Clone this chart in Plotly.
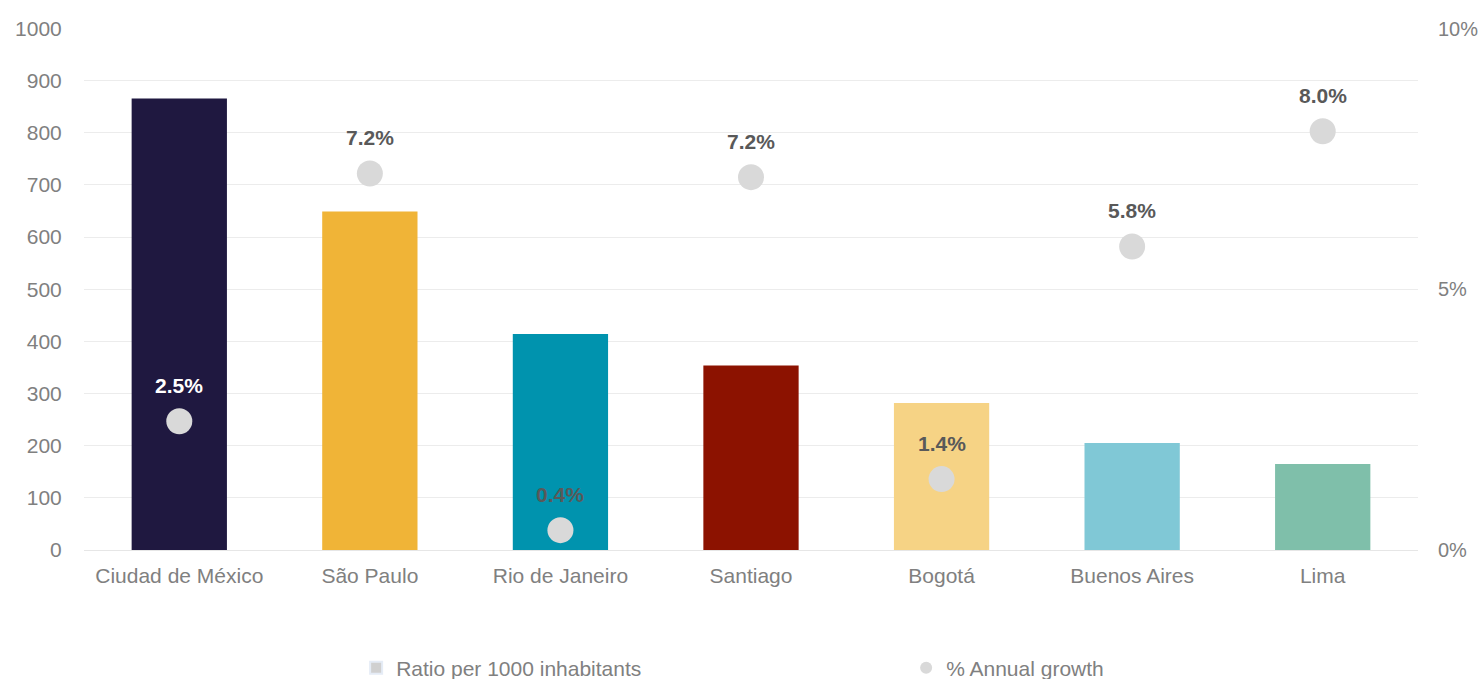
import plotly.graph_objects as go

cities = ["Ciudad de México", "São Paulo", "Rio de Janeiro", "Santiago", "Bogotá", "Buenos Aires", "Lima"]
ratio = [866, 649, 414, 354, 282, 205, 165]
growth = [0.0247, 0.0722, 0.0038, 0.0715, 0.0136, 0.0582, 0.0803]
growth_labels = ["2.5%", "7.2%", "0.4%", "7.2%", "1.4%", "5.8%", "8.0%"]
bar_colors = ["#1f1840", "#f0b437", "#0093ae", "#8c1200", "#f6d385", "#80c8d6", "#7fbfaa"]
label_colors = ["#ffffff", "#595959", "#595959", "#595959", "#595959", "#595959", "#595959"]

FONT = "Liberation Sans, Arial, sans-serif"
GRAY = "#808080"
FS = 21

fig = go.Figure()
fig.add_trace(go.Bar(x=cities, y=ratio, marker=dict(color=bar_colors, line=dict(width=0)),
                     width=0.5, showlegend=False, yaxis="y", hoverinfo="skip"))
fig.add_trace(go.Scatter(x=cities, y=growth, mode="markers", yaxis="y2",
                         marker=dict(size=26, color="#d9d9d9"), showlegend=False))
# legend-only entries
fig.add_trace(go.Bar(x=[None], y=[None], name="Ratio per 1000 inhabitants",
                     marker=dict(color="#d0d0d0"), yaxis="y"))
fig.add_trace(go.Scatter(x=[None], y=[None], mode="markers", name="% Annual growth",
                         marker=dict(color="#d9d9d9", size=10), yaxis="y2"))

for c, g, t, col in zip(cities, growth, growth_labels, label_colors):
    fig.add_annotation(x=c, y=g, yref="y2", text="<b>%s</b>" % t, showarrow=False,
                       yshift=36, font=dict(family=FONT, size=FS, color=col))

fig.update_layout(
    width=1480, height=679,
    margin=dict(l=84, r=62, t=28, b=129),
    paper_bgcolor="white", plot_bgcolor="white",
    font=dict(family=FONT, size=FS, color=GRAY),
    bargap=0.5,
    xaxis=dict(showgrid=False, tickfont=dict(size=FS, color=GRAY), ticks="outside",
               ticklen=7, tickcolor="rgba(0,0,0,0)", showline=True, linecolor="#e6e6e6",
               automargin=False),
    yaxis=dict(range=[0, 1001], dtick=100, gridcolor="#ececec", gridwidth=1,
               zeroline=False, tickfont=dict(size=FS, color=GRAY), ticks="outside",
               ticklen=17, tickcolor="rgba(0,0,0,0)", automargin=False),
    yaxis2=dict(range=[0, 0.1001], tickvals=[0, 0.05, 0.1], tickformat=".0%", overlaying="y",
                side="right", showgrid=False, zeroline=False,
                tickfont=dict(size=20, color=GRAY),
                ticks="outside", ticklen=15, tickcolor="rgba(0,0,0,0)", automargin=False),
    legend=dict(orientation="h", x=0.204, xanchor="left", xref="paper",
                y=0.0162, yanchor="middle", yref="container",
                entrywidth=505, entrywidthmode="pixels",
                font=dict(family=FONT, size=FS, color=GRAY), itemsizing="constant"),
)

fig.write_html("out.html")
